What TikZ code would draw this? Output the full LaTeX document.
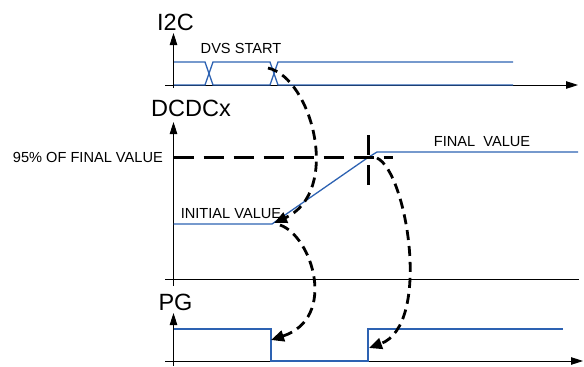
\documentclass[tikz,border=0pt]{standalone}
\usepackage{fontspec}
\setmainfont{Liberation Sans}
\usetikzlibrary{arrows.meta}
\definecolor{sigblue}{RGB}{45,98,178}
\begin{document}
\begin{tikzpicture}[x=1pt,y=-1pt,
  sig/.style={draw=sigblue,line width=1.3pt},
  axis/.style={draw=black,line width=0.9pt},
  axarrow/.style={axis,-{Triangle[length=12pt,width=7.5pt]}},
  flow/.style={draw=black,line width=2.8pt,dash pattern=on 10pt off 6pt,-{Triangle[length=13pt,width=11pt]}},
  lvl/.style={draw=black,line width=3pt,dash pattern=on 20pt off 10pt},
  lbl/.style={inner sep=0pt,font=\fontsize{14.6}{16}\selectfont},
  big/.style={inner sep=0pt,font=\fontsize{23.5}{26}\selectfont}]
\useasboundingbox (0,0) rectangle (584,367);

% ---------- I2C ----------
\coordinate (i2cO) at (173.5,88);
\coordinate (i2cT) at (173.5,33);
\coordinate (i2cL) at (165,85);
\coordinate (i2cR) at (578,85);
\draw[axarrow] (i2cO) -- (i2cT);
\draw[axarrow] (i2cL) -- (i2cR);
\node[big,anchor=south] (i2clabel) at (175.5,31) {I2C};
\node[lbl] (dvs) at (241,48) {DVS START};
\draw[sig] (174,62) -- (205,62) -- (213,85) -- (270,85) -- (278,62) -- (513,62);
\draw[sig] (174,85) -- (205,85) -- (213,62) -- (270,62) -- (278,85) -- (513,85);
\coordinate (x2) at (268,68);

% ---------- DCDCx ----------
\coordinate (dcO) at (173.5,286);
\coordinate (dcT) at (173.5,122);
\draw[axarrow] (dcO) -- (dcT);
\draw[axis] (165,279) -- (579,279);
\node[big,anchor=base west] (dclabel) at (151,116) {DCDCx};
\coordinate (init) at (272,224);
\coordinate (cross) at (368,157.5);
\draw[sig] (173.5,224) -- (init) -- (cross) -- (377,152) -- (578,152);
\node[lbl] (ival) at (231,214) {INITIAL VALUE};
\node[lbl] (fval) at (482,142) {FINAL\ \ VALUE};
\node[lbl,anchor=east] (p95) at (163,157.5) {95\% OF FINAL VALUE};
\draw[lvl] (173.5,157.5) -- (393,157.5);
\draw[line width=3pt,dash pattern=on 20pt off 10pt] (368,135) -- (368,186);

% ---------- PG ----------
\coordinate (pgO) at (173.5,366);
\coordinate (pgT) at (173.5,313);
\draw[axarrow] (pgO) -- (pgT);
\draw[axarrow] (165,361) -- (583,361);
\node[big,anchor=base] (pglabel) at (175.5,310) {PG};
\coordinate (pgF) at (271,340);
\coordinate (pgR) at (369,348);
\draw[sig] (173.5,329) -- (271,329) -- (271,361) -- (368,361) -- (368,329) -- (563,329);

% ---------- flow arrows ----------
\draw[flow] (x2) .. controls (312,78) and (342,192) .. (274,223);
\draw[flow] (280,225) .. controls (312,236) and (338,318) .. (pgF);
\draw[flow] (377,158) .. controls (407,172) and (432,325) .. (pgR);
\end{tikzpicture}
\end{document}
